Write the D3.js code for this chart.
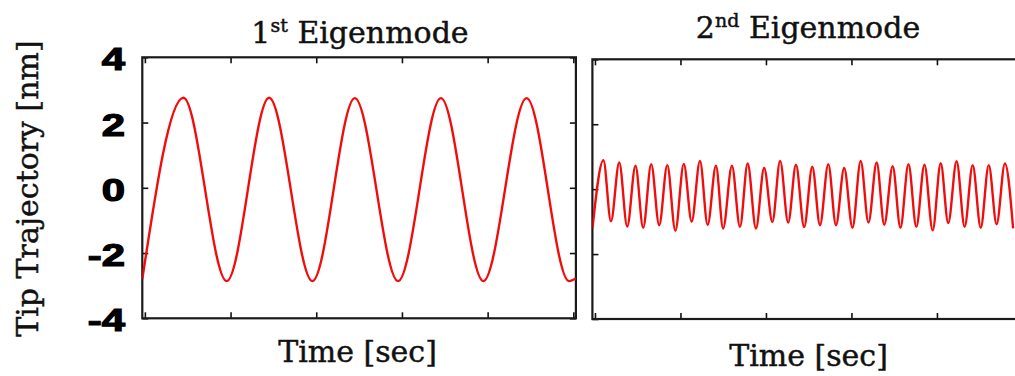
<!DOCTYPE html>
<html>
<head>
<meta charset="utf-8">
<script src="https://cdn.jsdelivr.net/npm/d3@7"></script>
<style>
body { margin: 0; background: #fff; }
svg { display: block; }
</style>
</head>
<body>
<script>
// 1st eigenmode: extrema (time in tick units, tip in nm)
const mode1Time = [-0.03, 0.45, 0.955, 1.45, 1.955, 2.45, 2.955, 3.455, 3.95, 4.455, 4.95, 5.03]
const mode1Tip = [-2.8, 2.76, -2.86, 2.76, -2.86, 2.75, -2.86, 2.75, -2.86, 2.75, -2.86, -2.77]

// 2nd eigenmode: troughs and peaks, in order
const mode2Time = [
	-0.029, 0.099, 0.187, 0.284, 0.377, 0.474, 0.564, 0.658, 0.751, 0.846,
	0.94, 1.039, 1.131, 1.228, 1.318, 1.415, 1.499, 1.602, 1.696, 1.786,
	1.883, 1.979, 2.075, 2.166, 2.26, 2.351, 2.447, 2.542, 2.632, 2.729,
	2.819, 2.915, 3.012, 3.108, 3.199, 3.295, 3.384, 3.482, 3.573, 3.667,
	3.759, 3.854, 3.95, 4.044, 4.132, 4.23, 4.324, 4.418, 4.512, 4.606,
	4.698, 4.795, 4.891
]
const mode2Tip = [
	-1.2, 0.89, -0.99, 0.82, -1.15, 0.72, -1.19, 0.77, -1.11, 0.74,
	-1.28, 0.78, -1.0, 0.87, -1.1, 0.72, -1.21, 0.72, -1.16, 0.79,
	-1.21, 0.65, -1.01, 0.87, -1.03, 0.75, -1.17, 0.69, -1.11, 0.77,
	-1.11, 0.65, -1.19, 0.87, -1.03, 0.82, -1.1, 0.71, -1.19, 0.77,
	-1.16, 0.75, -1.27, 0.8, -1.04, 0.86, -1.16, 0.74, -1.19, 0.74,
	-1.08, 0.79, -1.21
]

const titles = ['1|st|Eigenmode', '2|nd|Eigenmode']
const yTicks = [-4, -2, 0, 2, 4]
const xTicks = [0, 1, 2, 3, 4, 5]
const xLabel = 'Time [sec]'
const yLabel = 'Tip Trajectory [nm]'

const width = 1015
const height = 376

const svg = d3.select('body').append('svg')
	.attr('width', width)
	.attr('height', height)

// plot boxes in pixels
const panels = [
	{ time: mode1Time, tip: mode1Tip, title: titles[0], left: 142.3, right: 575.9, top: 57.3, bottom: 318.3, titleX: 360, titleY: 42.5, labelX: 357.5, labelY: 361.5 },
	{ time: mode2Time, tip: mode2Tip, title: titles[1], left: 592.4, right: 1025, top: 59.3, bottom: 319, titleX: 808, titleY: 37.5, labelX: 808.5, labelY: 365.5 }
]

const serif = '"DejaVu Serif", serif'

// serif text, slightly heavier like the original
const serifText = sel => sel
	.attr('font-family', serif)
	.attr('font-size', 30)
	.attr('fill', '#111')
	.attr('stroke', '#111')
	.attr('stroke-width', 0.45)

panels.forEach((p, i) => {
	const x = d3.scaleLinear().domain([-0.03, 5.03]).range([p.left, p.right])
	const y = d3.scaleLinear().domain([-4, 4]).range([p.bottom, p.top])

	const g = svg.append('g')

	const clipId = 'clip' + i
	svg.append('clipPath').attr('id', clipId)
		.append('rect')
		.attr('x', p.left).attr('y', p.top)
		.attr('width', p.right - p.left).attr('height', p.bottom - p.top)

	// inward ticks on all four sides
	const tickStyle = sel => {
		sel.select('.domain').remove()
		sel.selectAll('.tick line').attr('stroke', '#111').attr('stroke-width', 1.6)
		sel.selectAll('.tick text').remove()
	}
	g.append('g').attr('transform', `translate(0,${p.bottom})`)
		.call(d3.axisBottom(x).tickValues(xTicks).tickSizeInner(-6).tickSizeOuter(0)).call(tickStyle)
	g.append('g').attr('transform', `translate(0,${p.top})`)
		.call(d3.axisTop(x).tickValues(xTicks).tickSizeInner(-6).tickSizeOuter(0)).call(tickStyle)
	g.append('g').attr('transform', `translate(${p.left},0)`)
		.call(d3.axisLeft(y).tickValues(yTicks).tickSizeInner(-6).tickSizeOuter(0)).call(tickStyle)
	g.append('g').attr('transform', `translate(${p.right},0)`)
		.call(d3.axisRight(y).tickValues(yTicks).tickSizeInner(-6).tickSizeOuter(0)).call(tickStyle)

	// frame
	g.append('rect')
		.attr('x', p.left).attr('y', p.top)
		.attr('width', p.right - p.left).attr('height', p.bottom - p.top)
		.attr('fill', 'none').attr('stroke', '#1a1a1a').attr('stroke-width', 2.2)

	// trajectory
	const pts = p.time.map((t, k) => [t, p.tip[k]])
	const line = d3.line()
		.x(d => x(d[0]))
		.y(d => y(d[1]))
		.curve(d3.curveMonotoneX)
	g.append('path')
		.datum(pts)
		.attr('clip-path', `url(#${clipId})`)
		.attr('d', line)
		.attr('fill', 'none')
		.attr('stroke', '#f20d0d')
		.attr('stroke-width', 2.4)

	// title with superscript
	const parts = p.title.split('|')
	const title = svg.append('text')
		.attr('x', p.titleX).attr('y', p.titleY)
		.attr('text-anchor', 'middle')
		.call(serifText)
	title.append('tspan').text(parts[0])
	title.append('tspan').attr('dy', -11).attr('font-size', 19).text(parts[1])
	title.append('tspan').attr('dy', 11).text(' ' + parts[2])

	// x label
	svg.append('text')
		.attr('x', p.labelX).attr('y', p.labelY)
		.attr('text-anchor', 'middle')
		.call(serifText)
		.text(xLabel)

	// y tick labels only on the first panel
	if (i === 0) {
		yTicks.forEach(v => {
			svg.append('text')
				.attr('transform', `translate(125,${y(v) + 2}) scale(1.35,1)`)
				.attr('text-anchor', 'end')
				.attr('dy', '0.36em')
				.attr('font-family', '"Liberation Sans", Arial, sans-serif')
				.attr('font-weight', 'bold')
				.attr('font-size', 31)
				.attr('fill', '#000')
				.attr('stroke', '#000')
				.attr('stroke-width', 1.2)
				.text(String(v))
		})
	}
})

// y axis label
svg.append('text')
	.attr('transform', 'translate(38,188.5) rotate(-90)')
	.attr('text-anchor', 'middle')
	.call(serifText)
	.text(yLabel)
</script>
</body>
</html>
